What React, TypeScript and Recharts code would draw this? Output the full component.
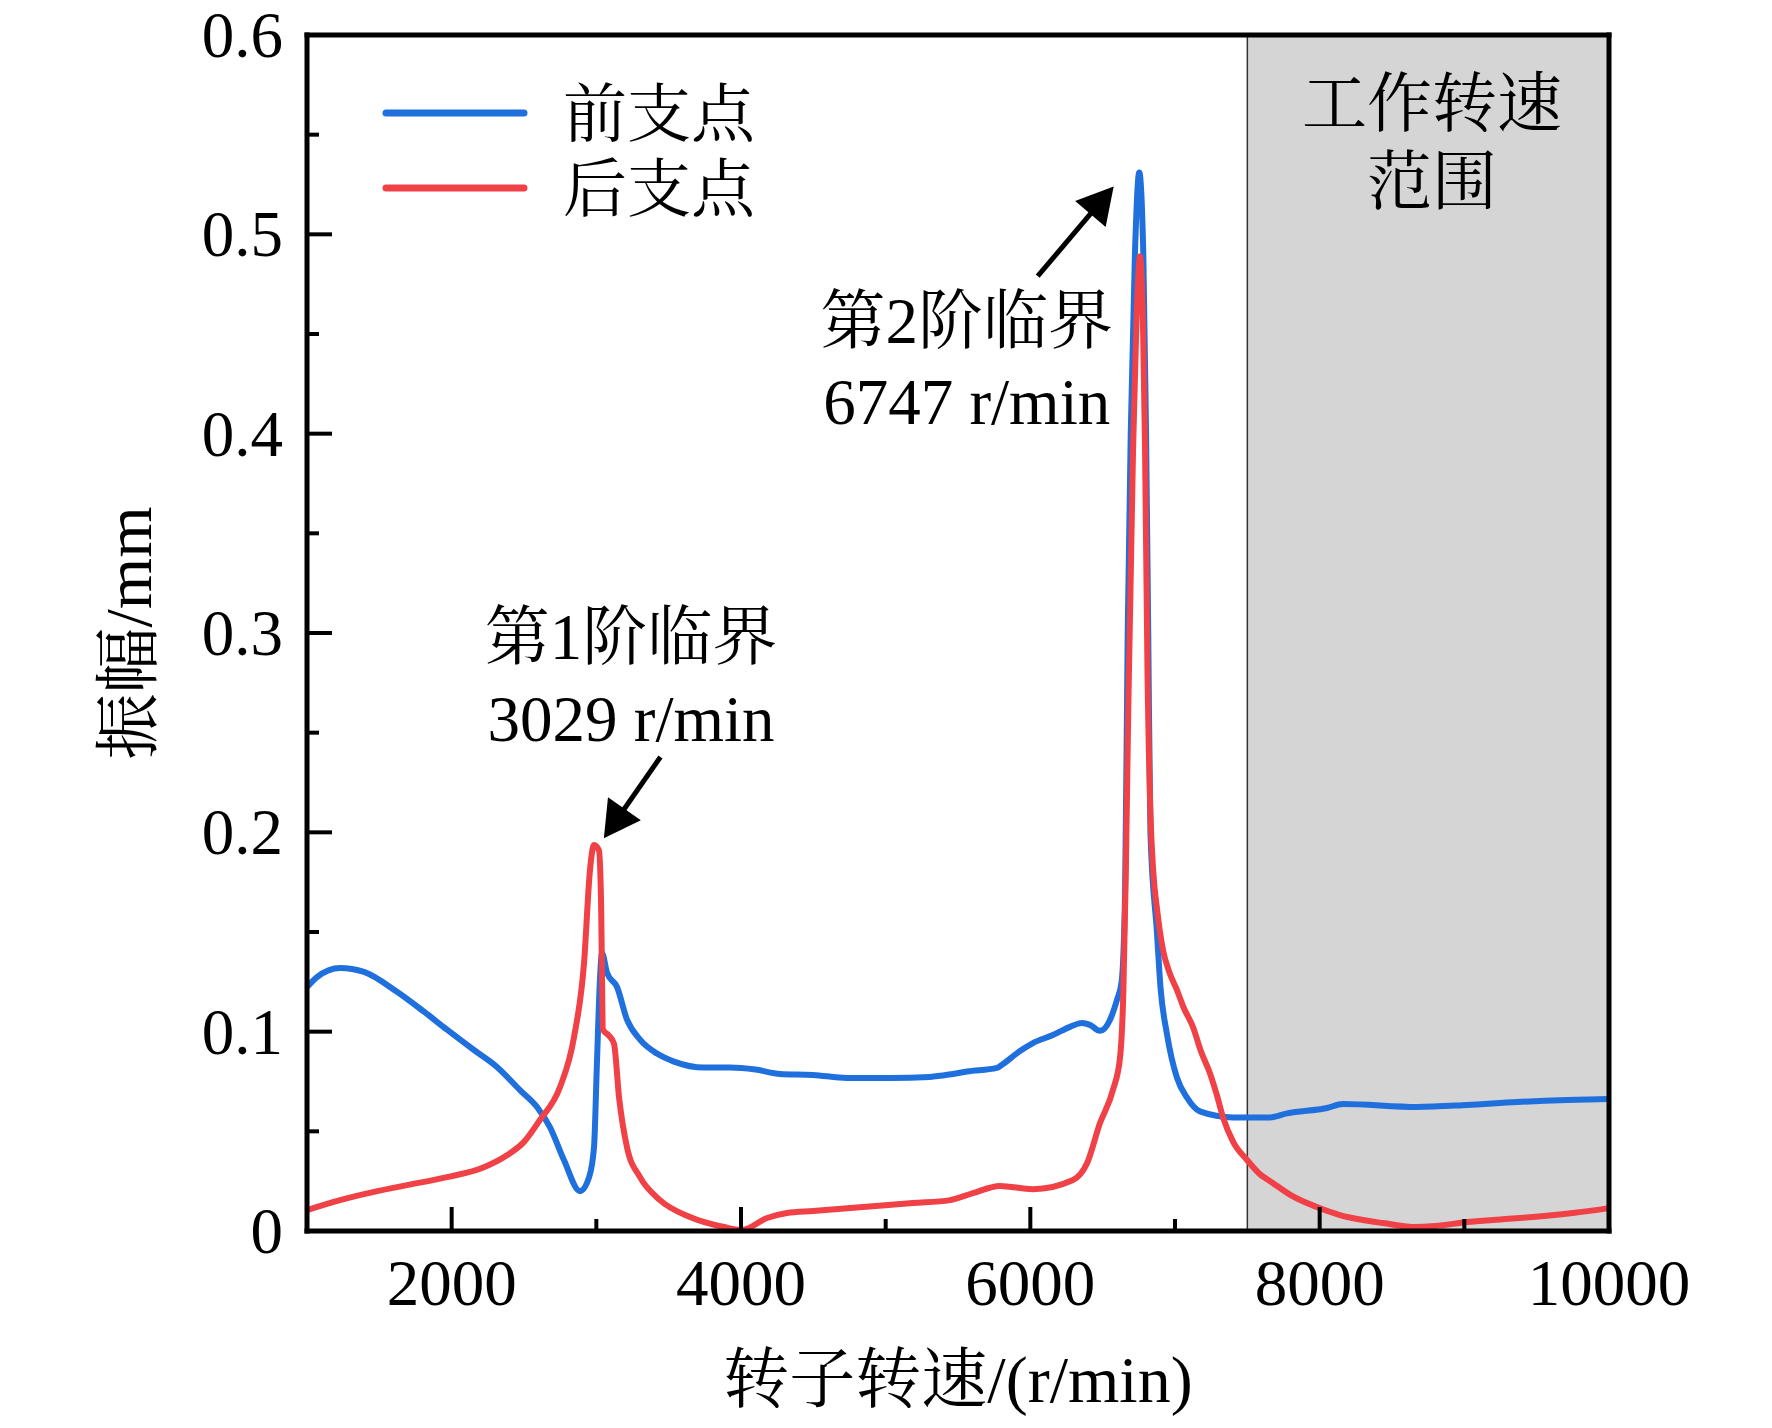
import React from "react";
import {
  LineChart,
  Line,
  XAxis,
  YAxis,
  ReferenceArea,
  ReferenceLine,
  ReferenceDot,
  Legend,
  Label,
} from "recharts";

// 前支点 (front bearing)
const frontSpeed = [
  1000, 1069, 1228, 1394, 1622, 1809, 1968, 2154, 2313, 2472, 2590, 2680, 2776, 2887, 2950, 2984,
  3004, 3025, 3039, 3074, 3143, 3212, 3302, 3419, 3537, 3744, 3924, 4100, 4270, 4498, 4733, 5030,
  5306, 5465, 5562, 5769, 5811, 5928, 6018, 6156, 6274, 6357, 6412, 6481, 6551, 6599, 6631, 6655,
  6673, 6694, 6723, 6753, 6781, 6800, 6815, 6830, 6875, 6900, 6944, 7013, 7082, 7172, 7401, 7657,
  7774, 8050, 8161, 8673, 9018, 9364, 9710, 10000,
];
const frontAmp = [
  0.1224, 0.1274, 0.132, 0.13, 0.12, 0.11, 0.101, 0.0908, 0.0823, 0.0707, 0.0622, 0.052, 0.0356,
  0.02, 0.027, 0.042, 0.084, 0.126, 0.1395, 0.1295, 0.1224, 0.106, 0.096, 0.089, 0.085, 0.082,
  0.082, 0.081, 0.0788, 0.0783, 0.0768, 0.0768, 0.0773, 0.0788, 0.08, 0.0818, 0.0838, 0.0903,
  0.0943, 0.0983, 0.1024, 0.1044, 0.1034, 0.1004, 0.106, 0.116, 0.125, 0.17, 0.3, 0.4, 0.49, 0.531,
  0.49, 0.4, 0.3, 0.2, 0.15, 0.122, 0.099, 0.077, 0.067, 0.06, 0.057, 0.057, 0.059, 0.0617, 0.0637,
  0.0622, 0.0632, 0.0647, 0.0657, 0.0662,
];

// 后支点 (rear bearing)
const rearSpeed = [
  1000, 1228, 1463, 1691, 1968, 2223, 2382, 2500, 2610, 2749, 2845, 2915, 2956, 2984, 3018, 3032,
  3046, 3087, 3122, 3157, 3212, 3302, 3440, 3647, 3882, 4007, 4180, 4318, 4498, 4843, 5189, 5445,
  5604, 5790, 6018, 6295, 6392, 6481, 6571, 6620, 6643, 6660, 6677, 6710, 6735, 6758, 6780, 6793,
  6810, 6830, 6850, 6875, 6917, 6960, 7013, 7060, 7124, 7180, 7242, 7290, 7332, 7400, 7498, 7580,
  7678, 7800, 7981, 8140, 8300, 8438, 8645, 8800, 9018, 9250, 9474, 9750, 10000,
];
const rearAmp = [
  0.0105, 0.0155, 0.0196, 0.023, 0.027, 0.032, 0.038, 0.0447, 0.0557, 0.0722, 0.097, 0.1345, 0.181,
  0.1937, 0.191, 0.1676, 0.101, 0.098, 0.094, 0.067, 0.042, 0.027, 0.0155, 0.007, 0.002, 0.0005,
  0.0065, 0.009, 0.01, 0.012, 0.014, 0.0155, 0.019, 0.0226, 0.021, 0.0256, 0.034, 0.054, 0.0707,
  0.087, 0.12, 0.18, 0.262, 0.392, 0.46, 0.489, 0.45, 0.392, 0.28, 0.21, 0.18, 0.162, 0.141, 0.13,
  0.121, 0.112, 0.1024, 0.09, 0.079, 0.068, 0.057, 0.045, 0.0356, 0.029, 0.024, 0.018, 0.012, 0.008,
  0.0055, 0.004, 0.002, 0.0025, 0.0045, 0.0058, 0.007, 0.009, 0.0115,
];

const xTicks = [1000, 2000, 3000, 4000, 5000, 6000, 7000, 8000, 9000, 10000];
const yTicks = [0, 0.05, 0.1, 0.15, 0.2, 0.25, 0.3, 0.35, 0.4, 0.45, 0.5, 0.55, 0.6];

const workRange = [7500, 10000];

const FONT = "'Liberation Serif', 'Times New Roman', 'Noto Serif CJK SC', 'Noto Sans CJK SC', serif";
const BLUE = "#1f6fdd";
const RED = "#ef4146";

const frontData = frontSpeed.map((s, i) => ({ speed: s, amp: frontAmp[i] }));
const rearData = rearSpeed.map((s, i) => ({ speed: s, amp: rearAmp[i] }));

const XTick = (props: any) => {
  const { x, y, payload } = props;
  const v = payload.value;
  const major = v % 2000 === 0;
  return (
    <g>
      <line x1={x} x2={x} y1={y} y2={y - (major ? 24 : 12)} stroke="#000" strokeWidth={4} />
      {major && (
        <text x={x} y={y + 74} textAnchor="middle" fontSize={65} fontFamily={FONT} fill="#000">
          {v}
        </text>
      )}
    </g>
  );
};

const YTick = (props: any) => {
  const { x, y, payload } = props;
  const v = payload.value;
  const major = Math.round(v * 100) % 10 === 0;
  return (
    <g>
      <line x1={x} x2={x + (major ? 25 : 12)} y1={y} y2={y} stroke="#000" strokeWidth={4} />
      {major && (
        <text x={x - 24} y={y + 22} textAnchor="end" fontSize={65} fontFamily={FONT} fill="#000">
          {v === 0 ? "0" : v.toFixed(1)}
        </text>
      )}
    </g>
  );
};

const arrowShape = (props: any) => {
  const { x1, y1, x2, y2 } = props;
  const dx = x2 - x1;
  const dy = y2 - y1;
  const len = Math.hypot(dx, dy);
  const ux = dx / len;
  const uy = dy / len;
  const hl = 36;
  const hw = 20;
  const bx = x2 - ux * hl;
  const by = y2 - uy * hl;
  return (
    <g>
      <line x1={x1} y1={y1} x2={bx + ux * 4} y2={by + uy * 4} stroke="#000" strokeWidth={5} />
      <polygon
        points={`${x2},${y2} ${bx - uy * hw},${by + ux * hw} ${bx + uy * hw},${by - ux * hw}`}
        fill="#000"
      />
    </g>
  );
};

const textShape = (txt: string) => (props: any) => (
  <text
    x={props.cx}
    y={props.cy}
    dy="0.36em"
    textAnchor="middle"
    fontSize={65}
    fontFamily={FONT}
    fill="#000"
  >
    {txt}
  </text>
);

const LegendBox = () => (
  <svg width={420} height={170}>
    <line x1={8} x2={146} y1={43} y2={43} stroke={BLUE} strokeWidth={7} strokeLinecap="round" />
    <line x1={8} x2={146} y1={118} y2={118} stroke={RED} strokeWidth={7} strokeLinecap="round" />
    <text x={185} y={43} dy="0.36em" fontSize={64} fontFamily={FONT} fill="#000">
      前支点
    </text>
    <text x={185} y={118} dy="0.36em" fontSize={64} fontFamily={FONT} fill="#000">
      后支点
    </text>
  </svg>
);

const axisLine = { stroke: "#000", strokeWidth: 5, strokeLinecap: "square" };

export default function App() {
  return (
    <div style={{ position: "absolute", left: 0, top: 0, width: 1772, height: 1428, background: "#fff" }}>
      <LineChart width={1772} height={1428} margin={{ top: 34, right: 162, bottom: 196, left: 306 }}>
        <ReferenceArea
          x1={workRange[0]}
          x2={workRange[1]}
          y1={0}
          y2={0.6}
          fill="#d5d5d5"
          fillOpacity={1}
          stroke="none"
        />
        <ReferenceLine x={workRange[0]} stroke="#333" strokeWidth={1.5} />
        <XAxis
          type="number"
          dataKey="speed"
          domain={[1000, 10000]}
          ticks={xTicks}
          interval={0}
          height={1}
          tickSize={0}
          tickMargin={0}
          tickLine={false}
          axisLine={axisLine}
          tick={<XTick />}
        >
          <Label
            content={(p: any) => {
              const vb = p.viewBox;
              return (
                <text
                  x={vb.x + vb.width / 2}
                  y={vb.y + 171}
                  textAnchor="middle"
                  fontSize={66}
                  fontFamily={FONT}
                  fill="#000"
                >
                  转子转速/(r/min)
                </text>
              );
            }}
          />
        </XAxis>
        <XAxis
          xAxisId="top"
          orientation="top"
          type="number"
          dataKey="speed"
          domain={[1000, 10000]}
          height={1}
          tick={false}
          tickLine={false}
          axisLine={axisLine}
        />
        <YAxis
          type="number"
          domain={[0, 0.6]}
          ticks={yTicks}
          interval={0}
          width={1}
          tickSize={0}
          tickMargin={0}
          tickLine={false}
          axisLine={axisLine}
          tick={<YTick />}
        >
          <Label
            content={(p: any) => {
              const vb = p.viewBox;
              const cx = vb.x + vb.width - 180;
              const cy = vb.y + vb.height / 2;
              return (
                <text
                  x={cx}
                  y={cy}
                  dy="0.36em"
                  textAnchor="middle"
                  fontSize={66}
                  fontFamily={FONT}
                  fill="#000"
                  transform={`rotate(-90, ${cx}, ${cy})`}
                >
                  振幅/mm
                </text>
              );
            }}
          />
        </YAxis>
        <YAxis
          yAxisId="right"
          orientation="right"
          type="number"
          domain={[0, 0.6]}
          width={1}
          tick={false}
          tickLine={false}
          axisLine={axisLine}
        />
        <Legend
          layout="vertical"
          align="center"
          verticalAlign="middle"
          content={() => <LegendBox />}
          wrapperStyle={{ left: 378, top: 70, width: 420, height: 170 }}
        />
        <Line
          data={frontData}
          dataKey="amp"
          name="前支点"
          type="monotone"
          stroke={BLUE}
          strokeWidth={6}
          dot={false}
          activeDot={false}
          isAnimationActive={false}
        />
        <Line
          data={rearData}
          dataKey="amp"
          name="后支点"
          type="monotone"
          stroke={RED}
          strokeWidth={6}
          dot={false}
          activeDot={false}
          isAnimationActive={false}
        />
        <ReferenceLine segment={[{ x: 3443, y: 0.2378 }, { x: 3052, y: 0.197 }]} shape={arrowShape} />
        <ReferenceLine segment={[{ x: 6051, y: 0.479 }, { x: 6576, y: 0.524 }]} shape={arrowShape} />
        <ReferenceDot x={3240} y={0.2985} r={0} shape={textShape("第1阶临界")} />
        <ReferenceDot x={3240} y={0.2577} r={0} shape={textShape("3029 r/min")} />
        <ReferenceDot x={5560} y={0.4574} r={0} shape={textShape("第2阶临界")} />
        <ReferenceDot x={5560} y={0.4166} r={0} shape={textShape("6747 r/min")} />
        <ReferenceDot x={8776} y={0.566} r={0} shape={textShape("工作转速")} />
        <ReferenceDot x={8776} y={0.527} r={0} shape={textShape("范围")} />
      </LineChart>
    </div>
  );
}
